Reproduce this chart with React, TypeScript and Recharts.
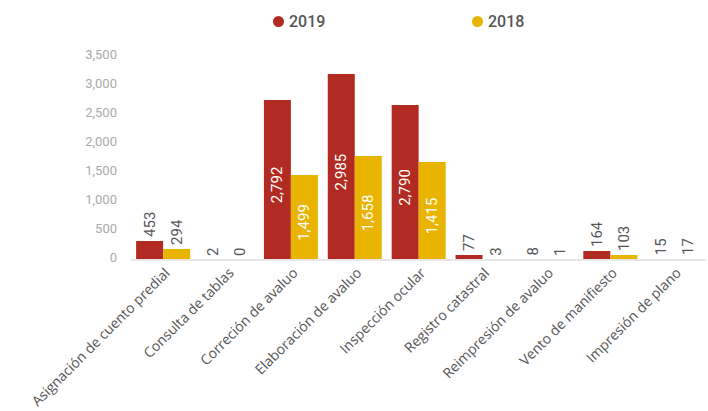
import React from "react";
import { BarChart, Bar, XAxis, YAxis, Legend, LabelList } from "recharts";

const categories = [
  "Asignación de cuento predial",
  "Consulta de tablas",
  "Correción de avaluo",
  "Elaboración de avaluo",
  "Inspección ocular",
  "Registro catastral",
  "Reimpresión de avaluo",
  "Vento de manifiesto",
  "Impresión de plano",
];
const values2019 = [328, 2, 2760, 3205, 2672, 86, 8, 155, 15];
const values2018 = [190, 0.3, 1466, 1793, 1690, 3, 1, 86, 17];
const labels2019 = ["453", "2", "2,792", "2,985", "2,790", "77", "8", "164", "15"];
const labels2018 = ["294", "0", "1,499", "1,658", "1,415", "3", "1", "103", "17"];
const yTicks = [0, 500, 1000, 1500, 2000, 2500, 3000, 3500];

const RED = "#B22B22";
const YELLOW = "#E8B400";

const data = categories.map((name, i) => ({
  name,
  v2019: values2019[i],
  v2018: values2018[i],
  l2019: labels2019[i],
  l2018: labels2018[i],
}));

const BarLabel = (props: any) => {
  const { x, y, width, height, value } = props;
  const cx = Number(x) + Number(width) / 2;
  const h = Number(height);
  const text = String(value);
  if (h > 60) {
    const cy = Number(y) + h / 2 + 5;
    return (
      <text
        x={cx}
        y={cy}
        transform={`rotate(-90 ${cx} ${cy})`}
        textAnchor="middle"
        dominantBaseline="central"
        fill="#ffffff"
        fontSize={15}
        fontFamily="Roboto, sans-serif"
      >
        {text}
      </text>
    );
  }
  const by = Number(y) - 4;
  return (
    <text
      x={cx}
      y={by}
      transform={`rotate(-90 ${cx} ${by})`}
      textAnchor="start"
      dominantBaseline="central"
      fill="#555555"
      fontSize={15}
      fontFamily="Roboto, sans-serif"
    >
      {text}
    </text>
  );
};

const XTick = (props: any) => {
  const { x, y, payload } = props;
  const tx = Number(x) + 4;
  const ty = Number(y) + 2;
  return (
    <text
      x={tx}
      y={ty}
      transform={`rotate(-45 ${tx} ${ty})`}
      textAnchor="end"
      dominantBaseline="central"
      fill="#555555"
      fontSize={14}
      fontFamily="'Open Sans', sans-serif"
    >
      {payload.value}
    </text>
  );
};

const LegendContent = () => {
  const items = [
    { label: "2019", color: RED, left: 273 },
    { label: "2018", color: YELLOW, left: 472 },
  ];
  return (
    <div style={{ position: "relative", height: 49, width: 708 }}>
      {items.map((it) => (
        <div
          key={it.label}
          style={{
            position: "absolute",
            left: it.left,
            top: 4,
            height: 18,
            display: "flex",
            alignItems: "center",
            fontFamily: "Roboto, sans-serif",
            fontSize: 16,
            fontWeight: 500,
            color: "#555555",
          }}
        >
          <span
            style={{
              display: "inline-block",
              width: 11,
              height: 11,
              borderRadius: "50%",
              background: it.color,
              marginRight: 5,
            }}
          />
          {it.label}
        </div>
      ))}
    </div>
  );
};

export default function App() {
  return (
    <div style={{ position: "absolute", left: 0, top: 0, width: 708, height: 411, background: "#fff" }}>
      <BarChart
        width={708}
        height={411}
        data={data}
        margin={{ top: 8, right: 2, bottom: 0, left: 0 }}
        barCategoryGap="8%"
        barGap={0}
      >
        <Legend verticalAlign="top" align="left" content={<LegendContent />} />
        <XAxis
          dataKey="name"
          interval={0}
          height={151}
          tickLine={false}
          axisLine={{ stroke: "#e6e6e6", strokeWidth: 2 }}
          tick={<XTick />}
        />
        <YAxis
          width={131}
          domain={[0, 3500]}
          ticks={yTicks}
          axisLine={false}
          tickLine={false}
          tickMargin={8}
          tickFormatter={(v: number) => v.toLocaleString("en-US")}
          tick={{ fill: "#aaaaaa", fontSize: 13, fontFamily: "Roboto, sans-serif", dy: -3 }}
        />
        <Bar dataKey="v2019" fill={RED} isAnimationActive={false}>
          <LabelList dataKey="l2019" content={<BarLabel />} />
        </Bar>
        <Bar dataKey="v2018" fill={YELLOW} isAnimationActive={false}>
          <LabelList dataKey="l2018" content={<BarLabel />} />
        </Bar>
      </BarChart>
    </div>
  );
}
